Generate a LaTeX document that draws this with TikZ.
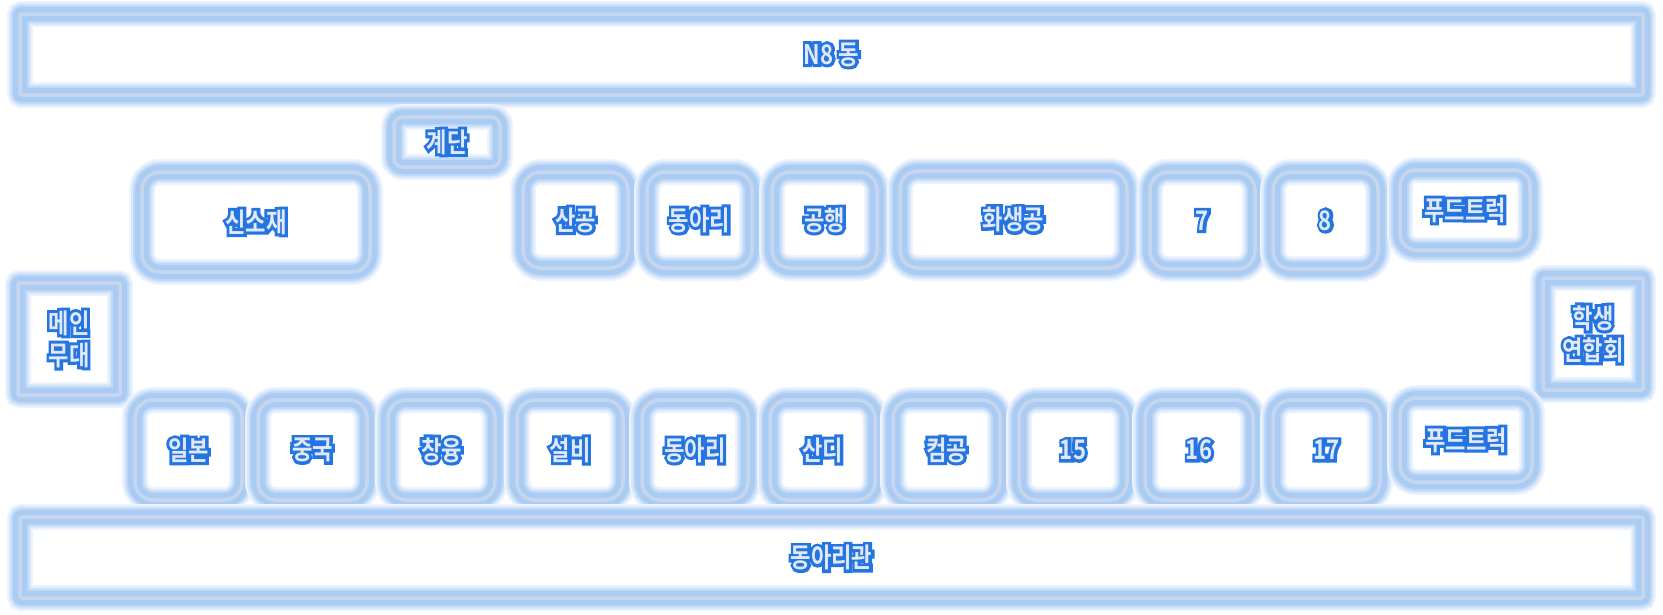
\documentclass[tikz,border=0pt]{standalone}
\usepackage{fontspec}
\newfontfamily\krtxt{Noto Sans CJK KR Bold}[FakeStretch=0.82]
\newfontfamily\krline{Noto Sans CJK KR Bold}[FakeStretch=0.82,FakeBold=22]
\definecolor{txtfill}{RGB}{226,233,246}
\definecolor{txtedge}{RGB}{36,116,226}
\definecolor{glow0}{RGB}{236,243,253}
\definecolor{glowa}{RGB}{216,231,251}
\definecolor{glowb}{RGB}{192,217,247}
\definecolor{glowc}{RGB}{170,203,242}
\definecolor{paleline}{RGB}{198,214,238}
\newcommand\lbl[1]{{\fontsize{27}{32}\selectfont\rlap{\krline\color{txtedge}#1}\krtxt\color{txtfill}#1}}
\tikzset{
  booth/.style={draw=paleline, line width=3.5pt, inner sep=0pt,
    preaction={draw=glow0, line width=26pt},
    preaction={draw=glowa, line width=22pt},
    preaction={draw=glowb, line width=18pt},
    preaction={draw=glowc, line width=14pt},
    align=center, font=\fontsize{27}{32}\selectfont},
  hall/.style={booth, rounded corners=2pt},
  stall/.style={booth, rounded corners=18pt},
}
\begin{document}
\begin{tikzpicture}[x=1pt,y=-1pt]
\fill[white] (0,0) rectangle (1663,614);
\useasboundingbox (0,0) rectangle (1663,614);
% top hall
\node[hall, minimum width=1623pt, minimum height=81pt] (n8) at (831.5,54.5) {\lbl{N8 동}};
\node[booth, rounded corners=9pt, minimum width=106pt, minimum height=50pt] (stairs) at (447,142) {\lbl{계단}};
% top row
\node[stall, minimum width=228pt, minimum height=100pt] (t1) at (256,222) {\lbl{신소재}};
\node[stall, minimum width=105pt, minimum height=96pt] (t2) at (575.5,220) {\lbl{산공}};
\node[stall, minimum width=105pt, minimum height=96pt] (t3) at (699.5,220) {\lbl{동아리}};
\node[stall, minimum width=105pt, minimum height=96pt] (t4) at (824.5,220) {\lbl{공행}};
\node[stall, minimum width=227pt, minimum height=97pt] (t5) at (1013.5,219.5) {\lbl{화생공}};
\node[stall, minimum width=105pt, minimum height=97pt] (t6) at (1202.5,220.5) {\lbl{7}};
\node[stall, minimum width=105pt, minimum height=97pt] (t7) at (1325.5,220.5) {\lbl{8}};
\node[stall, rounded corners=16pt, minimum width=130pt, minimum height=80pt] (t8) at (1465,210) {\lbl{푸드트럭}};
% side stages
\node[hall, minimum width=102pt, minimum height=112pt] (main) at (69,339) {\lbl{메인}\\\lbl{무대}};
\node[hall, minimum width=100pt, minimum height=112pt] (union) at (1593,334) {\lbl{학생}\\\lbl{연합회}};
% bottom row
\node[stall, minimum width=107pt, minimum height=100pt] (b1) at (188.5,450) {\lbl{일본}};
\node[stall, minimum width=109pt, minimum height=100pt] (b2) at (312.5,450) {\lbl{중국}};
\node[stall, minimum width=107pt, minimum height=100pt] (b3) at (441.5,450) {\lbl{창융}};
\node[stall, minimum width=106pt, minimum height=100pt] (b4) at (570,450) {\lbl{설비}};
\node[stall, minimum width=106pt, minimum height=100pt] (b5) at (695,450) {\lbl{동아리}};
\node[stall, minimum width=105pt, minimum height=100pt] (b6) at (822.5,450) {\lbl{산디}};
\node[stall, minimum width=107pt, minimum height=100pt] (b7) at (946.5,450) {\lbl{컴공}};
\node[stall, minimum width=108pt, minimum height=100pt] (b8) at (1073,450) {\lbl{15}};
\node[stall, minimum width=108pt, minimum height=100pt] (b9) at (1199,450) {\lbl{16}};
\node[stall, minimum width=107pt, minimum height=100pt] (b10) at (1326.5,450) {\lbl{17}};
\node[stall, rounded corners=16pt, minimum width=132pt, minimum height=84pt] (b11) at (1466,440) {\lbl{푸드트럭}};
% bottom hall
\node[hall, minimum width=1623pt, minimum height=81pt] (club) at (831.5,557.5) {\lbl{동아리관}};
\end{tikzpicture}
\end{document}
